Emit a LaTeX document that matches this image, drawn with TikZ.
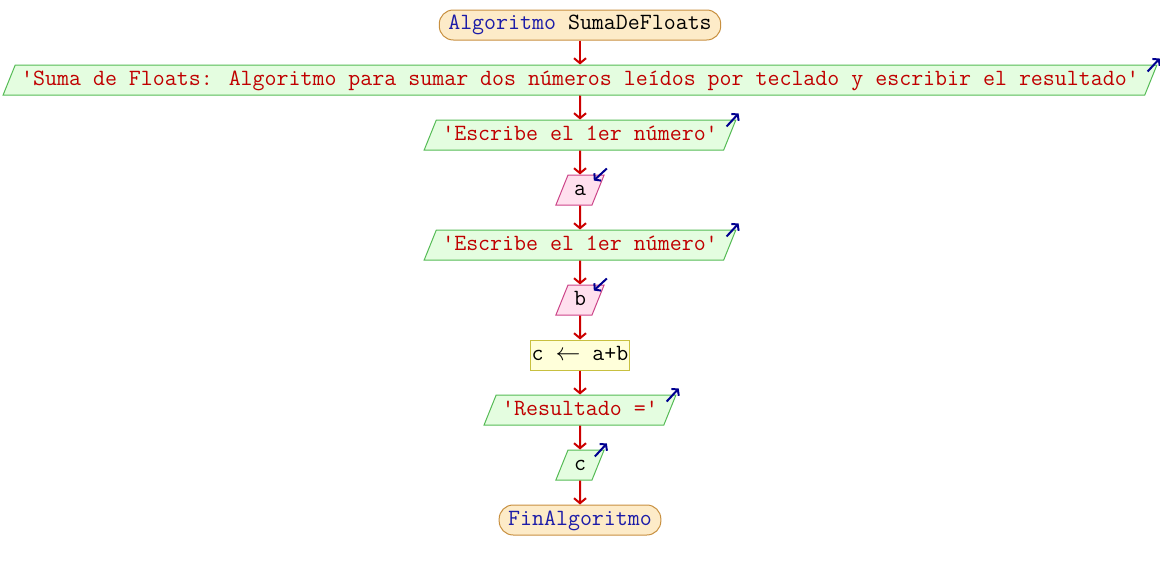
\documentclass[tikz,border=0pt]{standalone}
\usepackage{fontspec}
\usetikzlibrary{shapes.geometric,arrows.meta}
\definecolor{termF}{HTML}{FDEBC8}
\definecolor{termB}{HTML}{C89040}
\definecolor{outF}{HTML}{E4FDE0}
\definecolor{outB}{HTML}{55BB55}
\definecolor{inF}{HTML}{FFE0EE}
\definecolor{inB}{HTML}{CC4488}
\definecolor{asF}{HTML}{FFFFDA}
\definecolor{asB}{HTML}{C8C040}
\definecolor{strC}{HTML}{C00000}
\definecolor{kwC}{HTML}{1C1CA8}
\definecolor{flowR}{HTML}{CC0000}
\definecolor{ioB}{HTML}{000090}
\begin{document}
\begin{tikzpicture}[x=1pt,y=-1pt,
  font=\ttfamily\addfontfeature{FakeBold=0.5}\fontsize{23.25}{26}\selectfont,
  base/.style={inner ysep=6pt, text height=14pt, text depth=4pt, line width=1pt},
  term/.style={base, rectangle, rounded corners=14pt, draw=termB, fill=termF, inner xsep=9pt},
  outp/.style={base, trapezium, trapezium left angle=68, trapezium right angle=112,
    trapezium stretches body, draw=outB, fill=outF, inner xsep=6pt},
  inp/.style={outp, draw=inB, fill=inF},
  assign/.style={base, rectangle, draw=asB, fill=asF, inner xsep=1pt},
  flow/.style={draw=flowR, line width=2pt, -{Straight Barb[length=5pt,width=12pt]}},
  io/.style={draw=ioB, line width=2pt, -{Straight Barb[length=4pt,width=10pt]}}
]
\useasboundingbox (0,0) rectangle (1160,570);

\node[term] (start) at (580,25) {\textcolor{kwC}{Algoritmo} SumaDeFloats};
\node[outp, text=strC] (o1) at (580,80) {'Suma de Floats: Algoritmo para sumar dos números leídos por teclado y escribir el resultado'};
\node[outp, text=strC] (o2) at (580,135) {'Escribe el 1er número'};
\node[inp] (ia) at (580,190) {a};
\node[outp, text=strC] (o3) at (580,245) {'Escribe el 1er número'};
\node[inp] (ib) at (580,300) {b};
\node[assign] (as) at (580,355) {c $\leftarrow$ a+b};
\node[outp, text=strC] (o4) at (580,410) {'Resultado ='};
\node[outp] (oc) at (580,465) {c};
\node[term, text=kwC] (fin) at (580,520) {FinAlgoritmo};

\draw[flow] (start) -- (o1);
\draw[flow] (o1) -- (o2);
\draw[flow] (o2) -- (ia);
\draw[flow] (ia) -- (o3);
\draw[flow] (o3) -- (ib);
\draw[flow] (ib) -- (as);
\draw[flow] (as) -- (o4);
\draw[flow] (o4) -- (oc);
\draw[flow] (oc) -- (fin);

\foreach \n in {o1,o2,o3,o4,oc}
  \draw[io] ([shift={(-10pt,-7pt)}]\n.top right corner) -- ([shift={(2pt,6pt)}]\n.top right corner);
\foreach \n in {ia,ib}
  \draw[io] ([shift={(2pt,6pt)}]\n.top right corner) -- ([shift={(-11pt,-6pt)}]\n.top right corner);
\end{tikzpicture}
\end{document}
